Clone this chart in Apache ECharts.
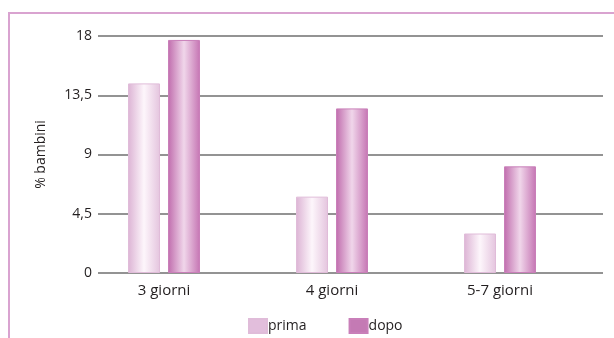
<!DOCTYPE html>
<html lang="it">
<head>
    <meta charset="UTF-8">
    <style>
        html, body { margin: 0; padding: 0; background: #fff; }
        #main { width: 614px; height: 338px; }
    </style>
    <script src="https://cdn.jsdelivr.net/npm/echarts@6/dist/echarts.min.js"></script>
    <title>% bambini</title>
</head>
<body>
    <div id="main"></div>
    <script>
        var categories = ['3 giorni', '4 giorni', '5-7 giorni'];
        var prima = [14.4, 5.8, 3.0];
        var dopo = [17.7, 12.5, 8.1];
        var yTicks = [0, 4.5, 9, 13.5, 18];

        var textColor = '#231f20';
        var font = 'Open Sans';

        function barFill(edgeL, mid, edgeR) {
            return new echarts.graphic.LinearGradient(0, 0, 1, 0, [
                { offset: 0, color: edgeL },
                { offset: 0.5, color: mid },
                { offset: 1, color: edgeR }
            ]);
        }

        var myChart = echarts.init(document.getElementById('main'));
        var option = {
            animation: false,
            graphic: [{
                type: 'rect',
                shape: { x: 9, y: 13, width: 700, height: 400 },
                style: { fill: 'none', stroke: '#d9a3d0', lineWidth: 2 },
                z: -10
            }],
            grid: [
                { left: 98, right: 11, top: 36, bottom: 65 },   // grid lines
                { left: 80, width: 504, top: 36, bottom: 65 }    // bars
            ],
            legend: {
                data: [
                    { name: 'prima', itemStyle: { color: '#e2bedc' } },
                    { name: 'dopo', itemStyle: { color: '#c47ab4' } }
                ],
                left: 243,
                top: 313,
                itemWidth: 18,
                itemHeight: 14,
                itemGap: 42,
                icon: 'rect',
                textStyle: { color: textColor, fontFamily: font, fontSize: 14, fontWeight: 500, padding: [0, 0, 0, -4] }
            },
            xAxis: [{
                gridIndex: 0,
                type: 'category',
                data: categories,
                show: false
            }, {
                gridIndex: 1,
                type: 'category',
                data: categories,
                axisLine: { show: false },
                axisTick: { show: false },
                axisLabel: { color: textColor, fontFamily: font, fontSize: 15, fontWeight: 500, margin: 10 }
            }],
            yAxis: [{
                gridIndex: 0,
                type: 'value',
                min: yTicks[0],
                max: yTicks[yTicks.length - 1],
                interval: yTicks[1] - yTicks[0],
                name: '% bambini',
                nameLocation: 'middle',
                nameGap: 50,
                nameTextStyle: { color: textColor, fontFamily: font, fontSize: 14, fontWeight: 500 },
                axisLine: { show: false },
                axisTick: { show: false },
                axisLabel: {
                    color: textColor, fontFamily: font, fontSize: 14, fontWeight: 500, margin: 6,
                    formatter: function (v) { return String(v).replace('.', ','); }
                },
                splitLine: { lineStyle: { color: '#6f6f6f', width: 1.5 } }
            }, {
                gridIndex: 1,
                type: 'value',
                min: yTicks[0],
                max: yTicks[yTicks.length - 1],
                show: false,
                splitLine: { show: false }
            }],
            series: [{
                name: 'prima',
                type: 'bar',
                xAxisIndex: 1,
                yAxisIndex: 1,
                barWidth: 32,
                barGap: '25%',
                data: prima,
                itemStyle: {
                    color: barFill('#dcb3d4', '#fdf6fb', '#e4c4de'),
                    borderColor: '#e0bcd9',
                    borderWidth: 1
                }
            }, {
                name: 'dopo',
                type: 'bar',
                xAxisIndex: 1,
                yAxisIndex: 1,
                barWidth: 32,
                barGap: '25%',
                data: dopo,
                itemStyle: {
                    color: barFill('#c06cad', '#f0d6ea', '#c574b3'),
                    borderColor: '#c97fb9',
                    borderWidth: 1
                }
            }]
        };
        myChart.setOption(option);
    </script>
</body>
</html>
